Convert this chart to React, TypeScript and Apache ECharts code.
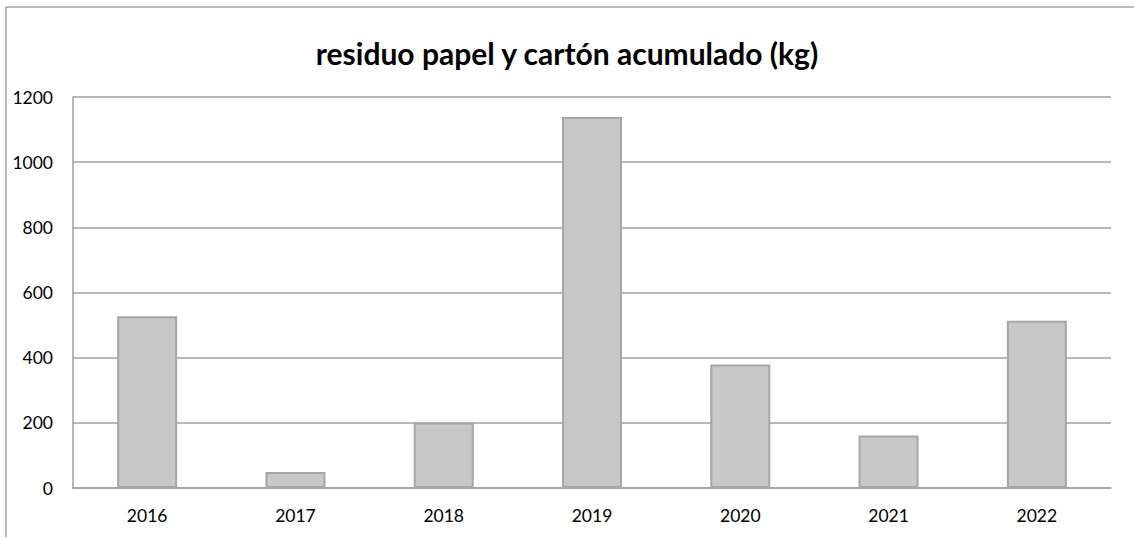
import React, { useEffect, useRef } from "react";
import * as echarts from "echarts";

const titleText = "residuo papel y cartón acumulado (kg)";
const years = ["2016", "2017", "2018", "2019", "2020", "2021", "2022"];
const values = [527, 49, 201, 1139, 379, 161, 513];
const yTicks = { min: 0, max: 1200, interval: 200 };

export default function App() {
  const ref = useRef<HTMLDivElement>(null);
  useEffect(() => {
    document.body.style.margin = "0";
    const chart = echarts.init(ref.current!, null, { renderer: "svg" });
    chart.setOption({
      animation: false,
      backgroundColor: "#ffffff",
      title: {
        text: titleText,
        left: "center",
        top: 33,
        textStyle: { fontFamily: "Lato", fontWeight: "bold", fontSize: 30, color: "#000" },
      },
      grid: { left: 73, right: 23, top: 97, bottom: 51, containLabel: false },
      graphic: [
        { type: "line", shape: { x1: 6, y1: 7, x2: 1134, y2: 7 }, style: { stroke: "#a6a6a6", lineWidth: 1.5 } },
        { type: "line", shape: { x1: 6, y1: 7, x2: 6, y2: 537 }, style: { stroke: "#a6a6a6", lineWidth: 1.5 } },
      ],
      xAxis: {
        type: "category",
        data: years,
        axisTick: { show: false },
        axisLine: { show: true, lineStyle: { color: "#a0a0a0", width: 1.5 } },
        axisLabel: { fontFamily: "Lato", fontSize: 17.5, color: "#000", margin: 18 },
      },
      yAxis: {
        type: "value",
        min: yTicks.min,
        max: yTicks.max,
        interval: yTicks.interval,
        axisTick: { show: false },
        axisLine: { show: true, lineStyle: { color: "#a0a0a0", width: 1.5 } },
        splitLine: { show: true, lineStyle: { color: "#a0a0a0", width: 1.5 } },
        axisLabel: {
          fontFamily: "Lato",
          fontSize: 17.5,
          color: "#000",
          margin: 20,
          formatter: (v: number) => String(v),
        },
      },
      series: [
        {
          type: "bar",
          data: values,
          barWidth: 60,
          itemStyle: { color: "#c8c8c8", borderColor: "#a6a6a6", borderWidth: 2 },
        },
      ],
    });
    return () => chart.dispose();
  }, []);
  return <div ref={ref} style={{ position: "fixed", left: 0, top: 0, width: 1134, height: 539 }} />;
}
